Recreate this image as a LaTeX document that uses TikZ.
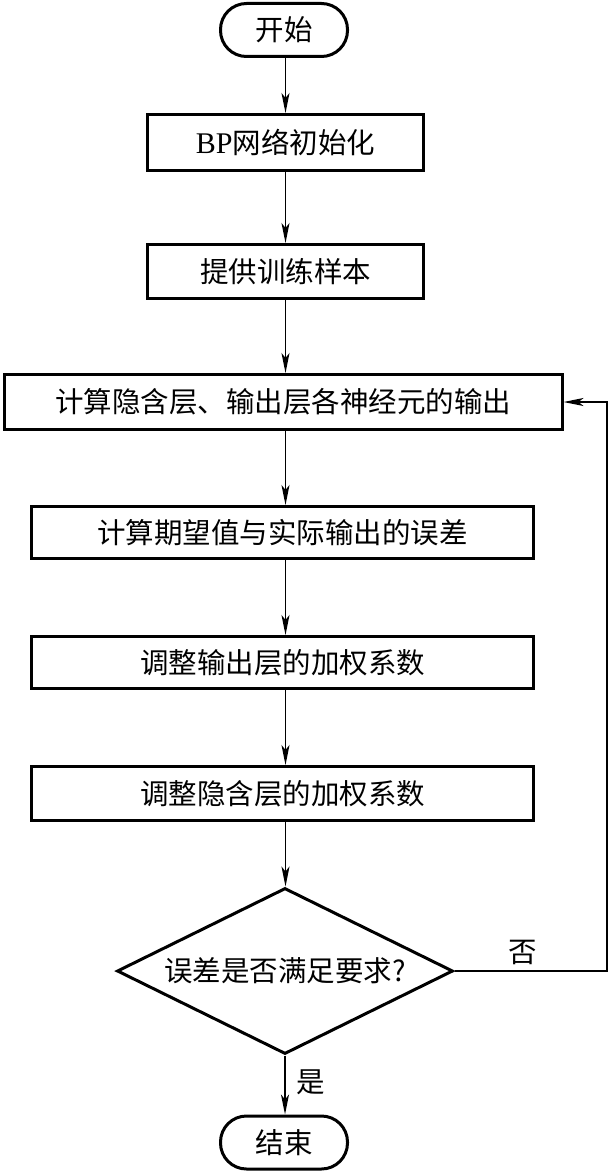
\documentclass[tikz,border=0pt]{standalone}
\usepackage{fontspec}
\newfontfamily\cjk{Noto Sans CJK SC}
\newfontfamily\lat{Liberation Serif}
\usetikzlibrary{arrows.meta,shapes.geometric}
\tikzset{
  txt/.style={font=\cjk\fontsize{28.5}{32}\selectfont},
  box/.style={draw, line width=3pt, rectangle, inner sep=0pt, txt},
  term/.style={draw, line width=3pt, rectangle, rounded corners=26pt, inner sep=0pt, minimum width=127pt, minimum height=53pt, txt},
  decision/.style={draw, line width=3pt, diamond, aspect=2, inner sep=0pt, minimum width=336pt, minimum height=166pt, txt},
  conn/.style={line width=1.5pt, -{Stealth[length=20pt,width=8pt,inset=5pt]}},
  lbl/.style={txt, inner sep=0pt}
}
\begin{document}
\begin{tikzpicture}[x=1pt,y=-1pt]
\useasboundingbox (0,0) rectangle (609,1172);
\node[term] (start) at (284,30) {开始};
\node[box, minimum width=276pt, minimum height=56pt] (bp) at (285.5,142.5) {{\lat\fontsize{30}{32}\selectfont BP}网络初始化};
\node[box, minimum width=276pt, minimum height=54pt] (sample) at (285.5,271.5) {提供训练样本};
\node[box, minimum width=558pt, minimum height=55pt] (calc) at (283,402) {计算隐含层、输出层各神经元的输出};
\node[box, minimum width=502pt, minimum height=52pt] (err) at (282.5,532.5) {计算期望值与实际输出的误差};
\node[box, minimum width=502pt, minimum height=52pt] (adjo) at (282.5,662.5) {调整输出层的加权系数};
\node[box, minimum width=502pt, minimum height=54pt] (adjh) at (282.5,793.5) {调整隐含层的加权系数};
\node[decision] (dec) at (285,971) {误差是否满足要求?};
\node[term] (end) at (284,1142.5) {结束};
\coordinate (fb) at (607,971);
\draw[conn] (start.south -| bp.north) -- (bp.north);
\draw[conn] (bp.south) -- (sample.north);
\draw[conn] (sample.south) -- (sample.south |- calc.north);
\draw[conn] (calc.south -| sample.south) -- (err.north -| sample.south);
\draw[conn] (err.south -| sample.south) -- (adjo.north -| sample.south);
\draw[conn] (adjo.south -| sample.south) -- (adjh.north -| sample.south);
\draw[conn] (adjh.south -| sample.south) -- (dec.north -| sample.south);
\draw[conn] (dec.south) -- (end.north -| dec.south);
\draw[conn] (dec.east) -- (fb) |- (calc.east);
\node[lbl] (no) at (523,952) {否};
\node[lbl] (yes) at (311,1082) {是};
\end{tikzpicture}
\end{document}
